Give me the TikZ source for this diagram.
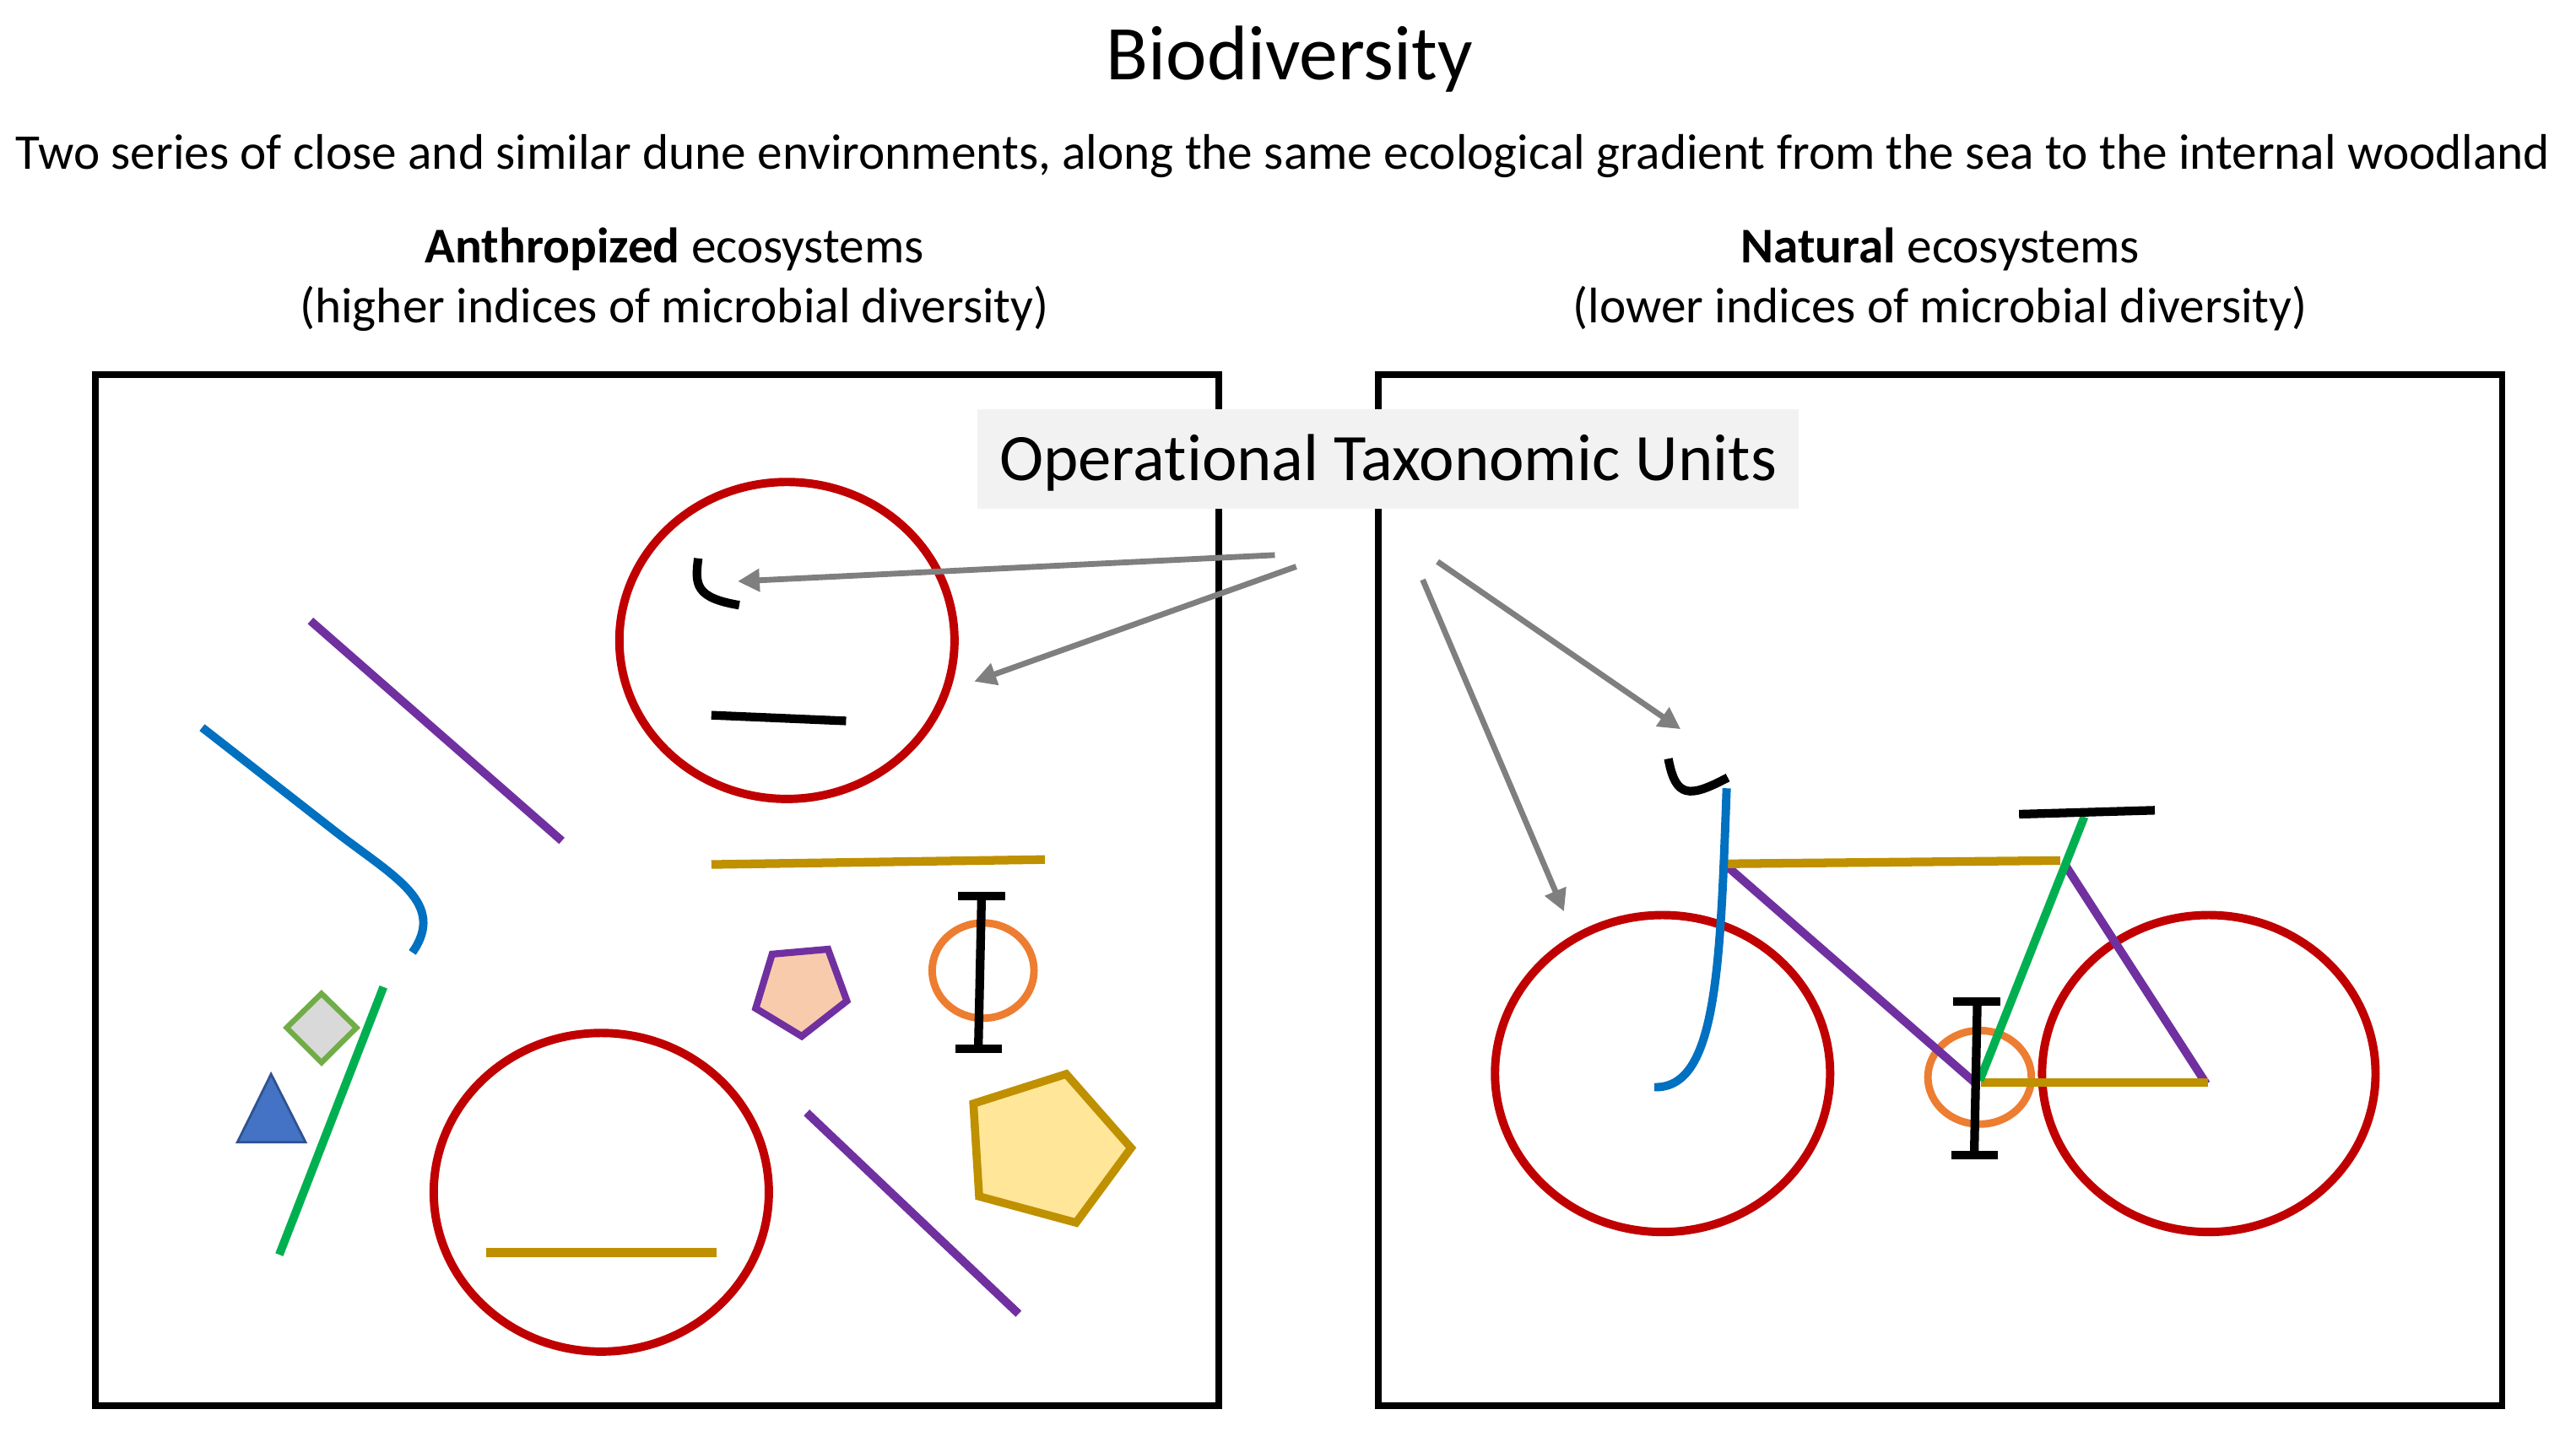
\documentclass[tikz,border=0pt]{standalone}
\usepackage{fontspec}
\setmainfont{Carlito}[Ligatures=NoCommon]
\usetikzlibrary{arrows.meta}
\definecolor{ringred}{HTML}{C00000}
\definecolor{barblue}{HTML}{0070C0}
\definecolor{barpurple}{HTML}{7030A0}
\definecolor{bargold}{HTML}{BF9000}
\definecolor{bargreen}{HTML}{00B050}
\definecolor{ringorange}{HTML}{ED7D31}
\definecolor{pointgray}{HTML}{7F7F7F}
\definecolor{peachfill}{HTML}{F8CBAD}
\definecolor{yellowfill}{HTML}{FFE699}
\definecolor{diamondgreen}{HTML}{70AD47}
\definecolor{diamondfill}{HTML}{D9D9D9}
\definecolor{triblue}{HTML}{4472C4}
\definecolor{triedge}{HTML}{2F528F}
\definecolor{labelfill}{HTML}{F2F2F2}
\tikzset{
    frame/.style={draw=black,line width=1.1pt},
    wheel/.style={draw=ringred,line width=1.45pt},
    pedal/.style={draw=ringorange,line width=1.3pt},
    part/.style={line width=1.45pt},
    goldpart/.style={draw=bargold,line width=1.5pt},
    blackpart/.style={draw=black,line width=1.5pt},
    otuarrow/.style={draw=pointgray,line width=1pt,-{Triangle[length=3.8pt,width=3.8pt]}},
}
\newcommand{\headsize}{\fontsize{8.66}{11}\selectfont}
\begin{document}
\begin{tikzpicture}[x=0.01cm,y=-0.01cm]
            \useasboundingbox (0,0) rectangle (1568,871);
            % panels
            \draw[frame] (58,228) rectangle (742,856);
            \draw[frame] (839,228) rectangle (1523,856);
            % texts
            \node (title) at (785,36) {\fontsize{13.4}{17}\selectfont Biodiversity};
            \node (subtitle) at (781,95) {\headsize Two series of close and similar dune environments, along the same ecological gradient from the sea to the internal woodland};
            \node (anthrotitle) at (410.5,152) {\headsize \textbf{Anthropized} ecosystems};
            \node (anthronote) at (410.5,188) {\headsize (higher indices of microbial diversity)};
            \node (naturaltitle) at (1181,152) {\headsize \textbf{Natural} ecosystems};
            \node (naturalnote) at (1181,188) {\headsize (lower indices of microbial diversity)};
            \fill[labelfill] (595,249) rectangle (1095,310);
            \node (otulabel) at (845,282) {\fontsize{11.5}{14}\selectfont Operational Taxonomic Units};
            % scattered parts on the left
            \draw[wheel] (479,390) ellipse (102 and 96.5);
            \draw[wheel] (366,726) ellipse (102 and 97);
            \draw[blackpart] (425,340) .. controls (423,356) and (423,364) .. (450,368.5);
            \draw[blackpart] (433,435.5) -- (515,439);
            \draw[part,barpurple] (189,378) -- (342,512);
            \draw[part,barpurple] (491,677.5) -- (620,800);
            \draw[part,barblue] (123,443) -- (205,507) .. controls (240,534) and (272,550) .. (251,580);
            \draw[goldpart] (433,526.4) -- (636,523.4);
            \draw[goldpart] (296,762.7) -- (436,762.7);
            \draw[part,bargreen] (233.4,601) -- (170,764);
            \draw[pedal] (598.4,591) ellipse (31 and 29);
            \draw[blackpart] (597.5,545.5) -- (595.5,638.8);
            \draw[blackpart] (583.3,545.5) -- (611.7,545.5);
            \draw[blackpart] (581.4,638.8) -- (609.7,638.8);
            \filldraw[draw=barpurple,fill=peachfill,line width=1.2pt] (470,581) -- (504,578) -- (515.5,609.5) -- (488,631) -- (460,614) -- cycle;
            \filldraw[draw=bargold,fill=yellowfill,line width=1.4pt] (649,654) -- (688.5,699) -- (655,744.5) -- (596,728.5) -- (592.5,672) -- cycle;
            \filldraw[draw=diamondgreen,fill=diamondfill,line width=0.95pt] (195.7,605) -- (217,625.8) -- (195.7,647) -- (174.5,625.8) -- cycle;
            \filldraw[draw=triedge,fill=triblue,line width=0.4pt] (165,654) -- (186,695.5) -- (144.5,695.5) -- cycle;
            % assembled bicycle on the right
            \draw[wheel] (1012,653.7) ellipse (102 and 96.5);
            \draw[wheel] (1344.5,653.7) ellipse (101.5 and 96.5);
            \draw[pedal] (1205,656) ellipse (31.5 and 28.5);
            \draw[part,barpurple] (1050,526.4) -- (1203,660);
            \draw[part,barpurple] (1257,526.6) -- (1343,660);
            \draw[goldpart] (1050,526) -- (1254,524);
            \draw[goldpart] (1206,659) -- (1344,659);
            \draw[part,bargreen] (1268.7,497.4) -- (1205,658);
            \draw[part,barblue] (1051,480) .. controls (1047,590) and (1045,663) .. (1007,662);
            \draw[blackpart] (1229,495.8) -- (1311.6,493.4);
            \draw[blackpart] (1015.5,462) .. controls (1020,486) and (1028,486) .. (1051.7,473.5);
            \draw[blackpart] (1203.6,610) -- (1201.7,703.4);
            \draw[blackpart] (1189,610) -- (1217.7,610);
            \draw[blackpart] (1187.6,703.4) -- (1216,703.4);
            % arrows
            \coordinate (otuhook) at (776,338);
            \coordinate (otubar) at (789,345);
            \coordinate (otuhookright) at (875,342);
            \coordinate (otubarright) at (866,353);
            \coordinate (hookleft) at (449,354);
            \coordinate (barleft) at (593,415);
            \coordinate (hookright) at (1023,444);
            \coordinate (barright) at (952,555);
            \draw[otuarrow] (otuhook) -- (hookleft);
            \draw[otuarrow] (otubar) -- (barleft);
            \draw[otuarrow] (otuhookright) -- (hookright);
            \draw[otuarrow] (otubarright) -- (barright);
        \end{tikzpicture}
\end{document}
